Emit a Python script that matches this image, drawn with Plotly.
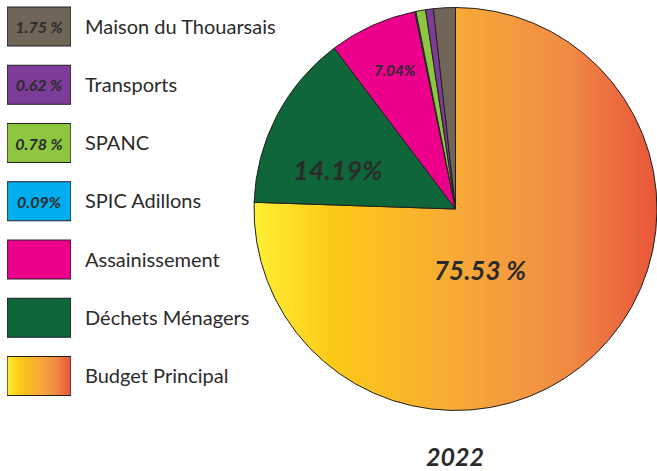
import plotly.graph_objects as go

# ---- data ----
pie_labels = ["Budget Principal", "Déchets Ménagers", "Assainissement", "SPIC Adillons",
              "SPANC", "Transports", "Maison du Thouarsais"]
pie_values = [75.53, 14.19, 7.04, 0.09, 0.78, 0.62, 1.75]
pie_text = ["75.53 %", "14.19%", "7.04%", "", "", "", ""]

legend_labels = ["Maison du Thouarsais", "Transports", "SPANC", "SPIC Adillons",
                 "Assainissement", "Déchets Ménagers", "Budget Principal"]
legend_text = ["1.75 %", "0.62 %", "0.78 %", "0.09%", "", "", ""]
year_label = "2022"

# ---- style ----
GRAD_PLACEHOLDER = "#f6a53a"
color_map = {
    "Budget Principal": GRAD_PLACEHOLDER,
    "Déchets Ménagers": "#0f6638",
    "Assainissement": "#ec008c",
    "SPIC Adillons": "#00aeef",
    "SPANC": "#8dc63f",
    "Transports": "#7d3c98",
    "Maison du Thouarsais": "#716557",
}
EDGE = "#231f20"
TXT = "#2b2b2b"
FONT = "Lato"
W, H = 657, 471

# label placement (pixel positions inside the pie) and sizes, per slice
label_pos_px = [(480, 270), (338, 170), (395, 70), None, None, None, None]
label_sizes = [26, 27, 15, 10, 10, 10, 10]

fig = go.Figure()

fig.add_trace(go.Pie(
    labels=pie_labels, values=pie_values,
    textinfo="none",
    sort=False, direction="clockwise", rotation=0,
    marker=dict(colors=[color_map[l] for l in pie_labels], line=dict(color=EDGE, width=1)),
    domain=dict(x=[254 / W, 1.0], y=[1 - (209 + 201.5) / H, 1 - (209 - 201.5) / H]),
    showlegend=False, hoverinfo="label+percent",
))

# legend drawn as a bar trace
ks = list(range(len(legend_labels)))
fig.add_trace(go.Bar(
    x=[1] * len(legend_labels), y=ks, orientation="h", width=0.67,
    text=legend_text, textposition="inside", insidetextanchor="middle", textangle=0,
    constraintext="none",
    textfont=dict(family=FONT, color=TXT, size=16, weight="bold", style="italic"),
    marker=dict(color=[color_map[l] for l in legend_labels], line=dict(color=EDGE, width=1.2)),
    showlegend=False, hoverinfo="skip", cliponaxis=False,
))

spacing = 58.25
top_val = -26.5 / spacing
bot_val = top_val + H / spacing

annotations = []
for txt, pos, sz in zip(pie_text, label_pos_px, label_sizes):
    if txt and pos:
        annotations.append(dict(text=txt, xref="paper", yref="paper",
                                x=pos[0] / W, y=1 - pos[1] / H,
                                xanchor="center", yanchor="middle", showarrow=False,
                                font=dict(family=FONT, size=sz, color=TXT,
                                          weight="bold", style="italic")))
annotations.append(dict(text=year_label, xref="paper", yref="paper", x=455 / W, y=1 - 456 / H,
                        xanchor="center", yanchor="middle", showarrow=False,
                        font=dict(family=FONT, size=25, color=TXT, weight="bold", style="italic")))

fig.update_layout(
    width=W, height=H, margin=dict(l=0, r=0, t=0, b=0),
    paper_bgcolor="white", plot_bgcolor="rgba(0,0,0,0)",
    font=dict(family=FONT, color=TXT),
    xaxis=dict(domain=[7 / W, 71 / W], range=[0, 1], visible=False, fixedrange=True),
    yaxis=dict(domain=[0, 1], range=[bot_val, top_val], side="right",
               tickvals=ks, ticktext=legend_labels, ticks="", showgrid=False,
               zeroline=False, showline=False, ticklabelstandoff=13,
               tickfont=dict(family=FONT, size=20, color=TXT), fixedrange=True),
    annotations=annotations,
)

post = """
document.body.style.margin = '0';
var gd = document.getElementById('{plot_id}');
function applyGrad(){
  var svg = gd.querySelector('svg.main-svg');
  if(!svg) return;
  var ns = 'http://www.w3.org/2000/svg';
  if(!document.getElementById('budgetGrad')){
    var defs = svg.querySelector('defs');
    if(!defs){ defs = document.createElementNS(ns,'defs'); svg.insertBefore(defs, svg.firstChild); }
    var lg = document.createElementNS(ns,'linearGradient');
    lg.setAttribute('id','budgetGrad');
    lg.setAttribute('x1','0'); lg.setAttribute('y1','0');
    lg.setAttribute('x2','1'); lg.setAttribute('y2','0');
    var stops = [[0,'#fff033'],[0.2,'#fcc917'],[0.55,'#f6a53a'],[0.78,'#f08a44'],[1,'#e9553a']];
    stops.forEach(function(s){
      var st = document.createElementNS(ns,'stop');
      st.setAttribute('offset', s[0]); st.setAttribute('stop-color', s[1]);
      lg.appendChild(st);
    });
    defs.appendChild(lg);
  }
  gd.querySelectorAll('path').forEach(function(p){
    var f = p.style.fill || p.getAttribute('fill') || '';
    if(f.replace(/ /g,'') === 'rgb(246,165,58)'){ p.style.fill = 'url(#budgetGrad)'; }
  });
}
applyGrad();
gd.on && gd.on('plotly_afterplot', applyGrad);
"""

fig.write_html("out.html", post_script=post, config={"displayModeBar": False})
